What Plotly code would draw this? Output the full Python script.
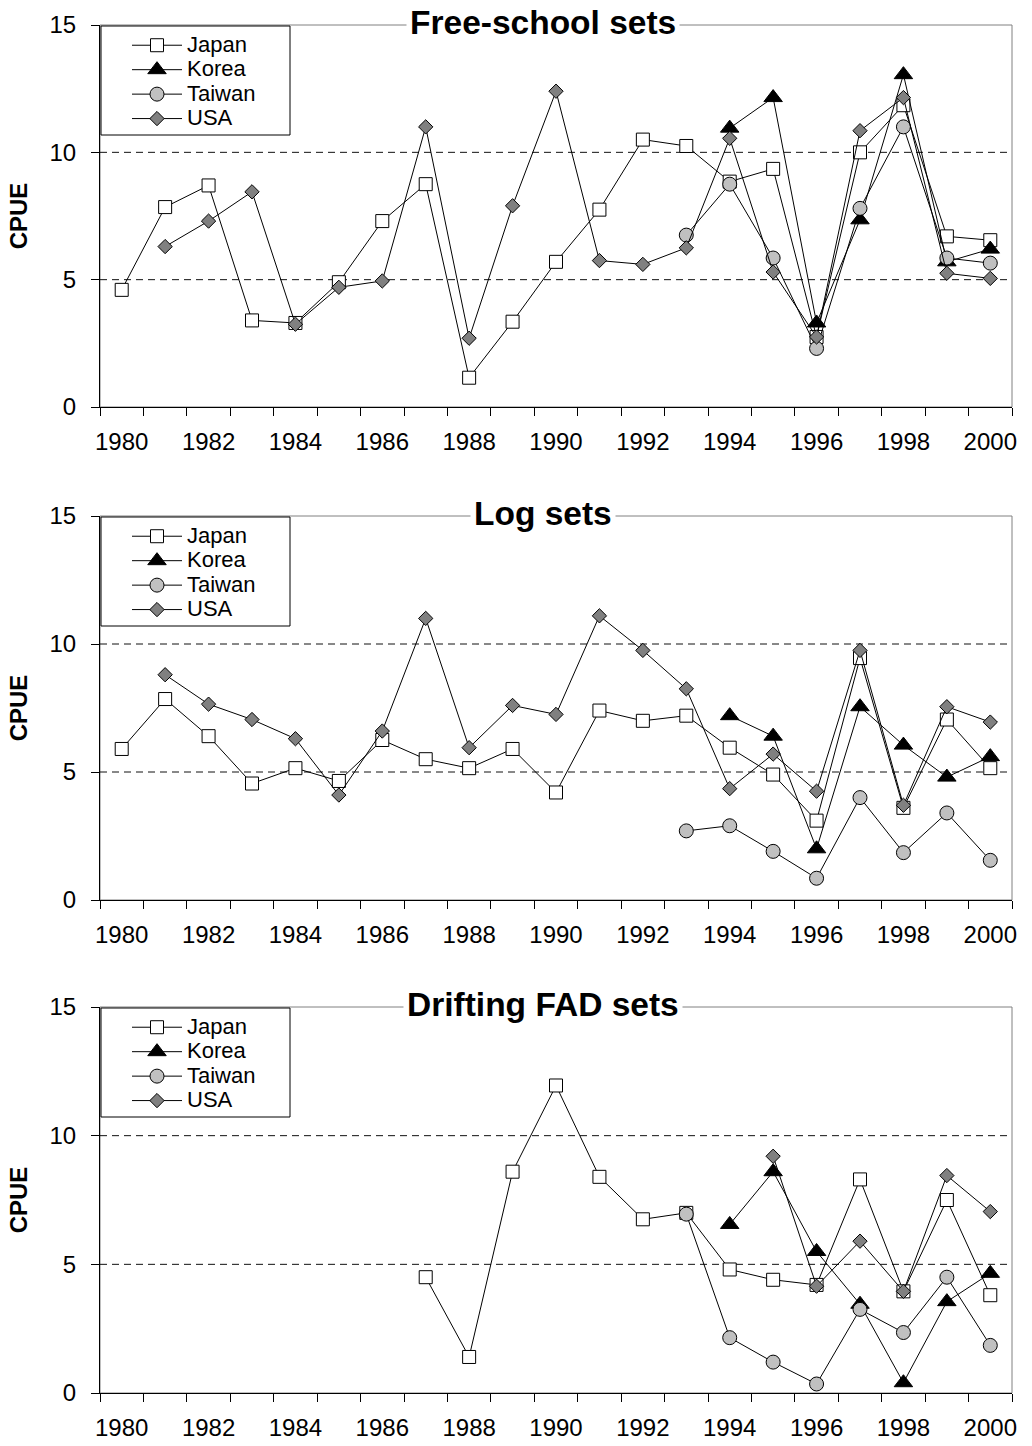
import plotly.graph_objects as go

# ---- data -----------------------------------------------------------------
years = list(range(1980, 2001))
label_years = list(range(1980, 2001, 2))
cpue_ticks = [0, 5, 10, 15]
countries = ["Japan", "Korea", "Taiwan", "USA"]
panel_titles = ["Free-school sets", "Log sets", "Drifting FAD sets"]

# Free-school sets
fs_japan = [4.6, 7.85, 8.7, 3.4, 3.3, 4.9, 7.3, 8.75, 1.15, 3.35, 5.7,
            7.75, 10.5, 10.25, 8.85, 9.35, 2.75, 10.0, 11.85, 6.7, 6.55]
fs_korea = [None] * 14 + [10.95, 12.15, 3.3, 7.35, 13.05, 5.7, 6.2]
fs_taiwan = [None] * 13 + [6.75, 8.75, 5.85, 2.3, 7.8, 11.0, 5.85, 5.65]
fs_usa = [None, 6.3, 7.3, 8.45, 3.25, 4.7, 4.95, 11.0, 2.7, 7.9, 12.4,
          5.75, 5.6, 6.25, 10.55, 5.3, 2.75, 10.85, 12.15, 5.25, 5.05]

# Log sets
log_japan = [5.9, 7.85, 6.4, 4.55, 5.15, 4.65, 6.25, 5.5, 5.15, 5.9, 4.2,
             7.4, 7.0, 7.2, 5.95, 4.9, 3.1, 9.45, 3.6, 7.05, 5.15]
log_korea = [None] * 14 + [7.2, 6.4, 2.0, 7.55, 6.05, 4.8, 5.6]
log_taiwan = [None] * 13 + [2.7, 2.9, 1.9, 0.85, 4.0, 1.85, 3.4, 1.55]
log_usa = [None, 8.8, 7.65, 7.05, 6.3, 4.1, 6.6, 11.0, 5.95, 7.6, 7.25,
           11.1, 9.75, 8.25, 4.35, 5.7, 4.25, 9.75, 3.7, 7.55, 6.95]

# Drifting FAD sets
fad_japan = [None] * 7 + [4.5, 1.4, 8.6, 11.95, 8.4, 6.75, 7.0, 4.8, 4.4,
                          4.2, 8.3, 3.95, 7.5, 3.8]
fad_korea = [None] * 14 + [6.55, 8.6, 5.5, 3.45, 0.4, 3.55, 4.65]
fad_taiwan = [None] * 13 + [6.95, 2.15, 1.2, 0.35, 3.25, 2.35, 4.5, 1.85]
fad_usa = [None] * 15 + [9.2, 4.15, 5.9, 3.95, 8.45, 7.05]

panels = [
    [fs_japan, fs_korea, fs_taiwan, fs_usa],
    [log_japan, log_korea, log_taiwan, log_usa],
    [fad_japan, fad_korea, fad_taiwan, fad_usa],
]

# ---- styling --------------------------------------------------------------
W, H = 1032, 1446
FONT = "Arial, 'Liberation Sans', sans-serif"
marker_styles = {
    "Japan": dict(symbol="square", size=13, color="white"),
    "Korea": dict(symbol="triangle-up", size=16, color="black"),
    "Taiwan": dict(symbol="circle", size=14, color="#c0c0c0"),
    "USA": dict(symbol="diamond", size=11, color="#808080"),
}

# plot-area pixel boxes for each panel
x_left, x_right = 100, 1012
panel_rows = [(25, 407), (516, 900), (1007, 1393)]
legend_box_x = (101, 290)


def xpaper(px):
    return px / W


def ypaper(px):
    return 1 - px / H


fig = go.Figure()

for i, series in enumerate(panels):
    n = i + 1
    xa = "x" if n == 1 else f"x{n}"
    ya = "y" if n == 1 else f"y{n}"
    lg = "legend" if n == 1 else f"legend{n}"
    for name, vals in zip(countries, series):
        ms = marker_styles[name]
        fig.add_trace(go.Scatter(
            x=years, y=vals, mode="lines+markers",
            name=f'<span style="font-size:22px">{name}</span>',
            xaxis=xa, yaxis=ya, legend=lg, connectgaps=False,
            line=dict(color="black", width=1),
            marker=dict(symbol=ms["symbol"], size=ms["size"], color=ms["color"],
                        line=dict(color="black", width=1)),
        ))

layout = dict(
    template="none",
    width=W, height=H,
    margin=dict(l=0, r=0, t=0, b=0, pad=0),
    paper_bgcolor="white", plot_bgcolor="white",
    font=dict(family=FONT, color="black"),
    shapes=[], annotations=[],
    showlegend=True,
)

for i, (top, bottom) in enumerate(panel_rows):
    n = i + 1
    sx = "" if n == 1 else str(n)
    layout[f"xaxis{sx}"] = dict(
        domain=[xpaper(x_left), xpaper(x_right)], anchor=f"y{sx}",
        automargin=False,
        range=[1979.5, 2000.5], tickmode="array", tickvals=label_years,
        ticks="", showline=True, linecolor="black", linewidth=1,
        showgrid=False, zeroline=False,
        tickfont=dict(size=24, family=FONT, color="black"),
        ticklabelstandoff=13,
        minor=dict(tickmode="array",
                   tickvals=[y - 0.5 for y in range(1980, 2002)],
                   ticks="outside", ticklen=8, tickcolor="black",
                   showgrid=False),
    )
    layout[f"yaxis{sx}"] = dict(
        domain=[ypaper(bottom), ypaper(top)], anchor=f"x{sx}",
        automargin=False,
        range=[0, 15], tickmode="array", tickvals=cpue_ticks,
        ticks="outside", ticklen=8, tickcolor="black",
        showline=True, linecolor="black", linewidth=1,
        showgrid=False, zeroline=False,
        tickfont=dict(size=24, family=FONT, color="black"),
        ticklabelstandoff=10,
        title=dict(text="<b>CPUE</b>", font=dict(size=24, family=FONT),
                   standoff=15),
    )
    # gray frame on top/right of the plot area
    layout["shapes"].append(dict(
        type="rect", xref=f"x{sx} domain", yref=f"y{sx} domain",
        x0=0, x1=1, y0=0, y1=1, line=dict(color="#808080", width=1),
        layer="below",
    ))
    # dashed reference lines at 5 and 10
    for yv in (5, 10):
        layout["shapes"].append(dict(
            type="line", xref=f"x{sx} domain", yref=f"y{sx}",
            x0=0, x1=1, y0=yv, y1=yv,
            line=dict(color="#101010", width=1, dash="7px,5px"),
            layer="below",
        ))
    # legend frame (white box hiding lines underneath)
    layout["shapes"].append(dict(
        type="rect", xref="paper", yref="paper",
        x0=xpaper(legend_box_x[0]), x1=xpaper(legend_box_x[1]),
        y0=ypaper(top + 110), y1=ypaper(top + 1),
        line=dict(color="black", width=1), fillcolor="white",
        layer="above",
    ))
    # panel title sitting on the top frame line
    layout["annotations"].append(dict(
        text=f"<b>{panel_titles[i]}</b>", xref="paper", yref="paper",
        x=xpaper(543), y=ypaper(top), xanchor="center", yanchor="middle",
        yshift=3, showarrow=False, bgcolor="white", borderpad=3,
        font=dict(size=33.5, family=FONT, color="black"),
    ))
    lgname = "legend" if n == 1 else f"legend{n}"
    layout[lgname] = dict(
        x=xpaper(127), y=ypaper(top + 3), xref="paper", yref="paper",
        xanchor="left", yanchor="top",
        bgcolor="rgba(0,0,0,0)", borderwidth=0,
        font=dict(size=16.5, family=FONT, color="black"),
        itemwidth=50, tracegroupgap=0,
    )

fig.update_layout(**layout)
fig.write_html("out.html")
